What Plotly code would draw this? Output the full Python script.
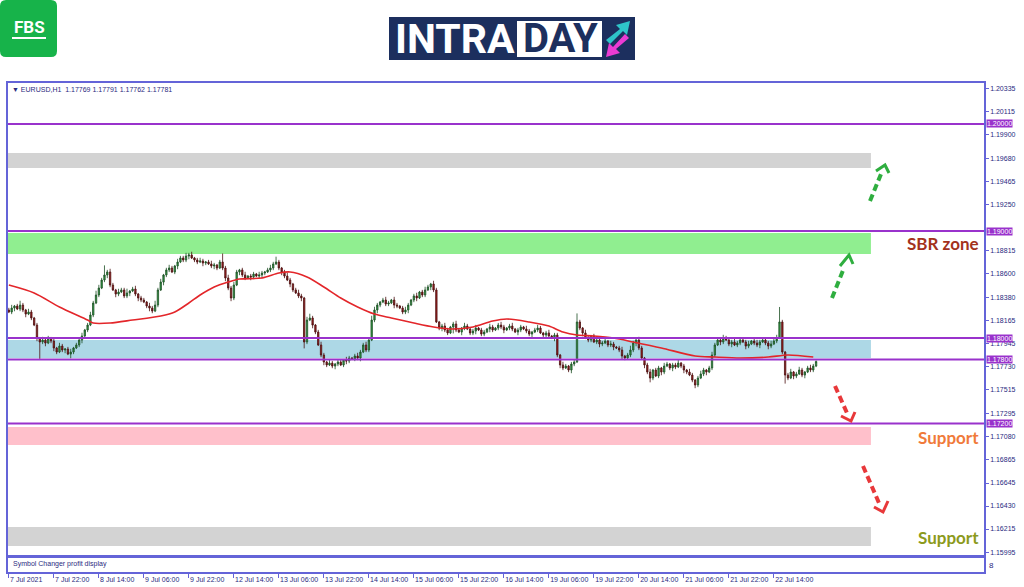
import plotly.graph_objects as go

W, H = 1024, 587

# ---------------- data (EURUSD H1) ----------------
first_open = 1.18262
closes = [
    1.18243, 1.18280, 1.18299, 1.18271, 1.18308, 1.18262, 1.18224, 1.18243,
    1.18187, 1.18121, 1.18000, 1.17963,
    1.17981, 1.17953, 1.18000, 1.17972, 1.17907, 1.17869, 1.17925, 1.17888, 1.17897, 1.17850, 1.17869,
    1.17907, 1.17935, 1.17981, 1.18019, 1.18075, 1.18121,
    1.18215, 1.18327, 1.18402, 1.18467, 1.18542, 1.18589, 1.18617,
    1.18495, 1.18449, 1.18411, 1.18430, 1.18449, 1.18393, 1.18421, 1.18439, 1.18458, 1.18411, 1.18374, 1.18355, 1.18336, 1.18299, 1.18280, 1.18252,
    1.18308, 1.18449, 1.18523, 1.18589, 1.18636, 1.18654, 1.18617, 1.18673, 1.18710, 1.18748, 1.18729, 1.18766, 1.18776,
    1.18748, 1.18729, 1.18710, 1.18720, 1.18701, 1.18710, 1.18692, 1.18673, 1.18682, 1.18654, 1.18710,
    1.18654, 1.18561, 1.18467, 1.18374, 1.18495,
    1.18617, 1.18636, 1.18589, 1.18561, 1.18579, 1.18570, 1.18598, 1.18579, 1.18589, 1.18607, 1.18617, 1.18636, 1.18654, 1.18692,
    1.18710,
    1.18654, 1.18617, 1.18579, 1.18542, 1.18505, 1.18449, 1.18421, 1.18393, 1.18374,
    1.17963,
    1.18168, 1.18187, 1.18121, 1.18056,
    1.17935, 1.17841, 1.17776, 1.17748, 1.17766, 1.17738, 1.17757, 1.17776, 1.17748,
    1.17794, 1.17785, 1.17813, 1.17804, 1.17832, 1.17813, 1.17869,
    1.17935, 1.17888, 1.17981, 1.18168,
    1.18262, 1.18308, 1.18336, 1.18355, 1.18318, 1.18327, 1.18355, 1.18308, 1.18299, 1.18280,
    1.18243, 1.18262, 1.18308, 1.18355, 1.18393, 1.18374, 1.18430,
    1.18402, 1.18449, 1.18477, 1.18505, 1.18449,
    1.18150,
    1.18093, 1.18112, 1.18075, 1.18047, 1.18103, 1.18131, 1.18075, 1.18056, 1.18093, 1.18112, 1.18084, 1.18047,
    1.18065, 1.18093, 1.18075, 1.18037, 1.18056, 1.18084, 1.18103, 1.18075, 1.18093, 1.18121, 1.18103,
    1.18075, 1.18093, 1.18112, 1.18084, 1.18056, 1.18075, 1.18103, 1.18084, 1.18065, 1.18037,
    1.18056, 1.18075, 1.18093, 1.18047, 1.18028, 1.18047, 1.18019, 1.18000, 1.18028,
    1.17841, 1.17748, 1.17720, 1.17738, 1.17701, 1.17757, 1.17776,
    1.18150,
    1.18093, 1.18047, 1.18000, 1.17981, 1.18019, 1.17963, 1.17981, 1.17944,
    1.17953, 1.17972, 1.17935, 1.17944, 1.17916, 1.17907, 1.17888, 1.17832, 1.17813, 1.17841,
    1.17888, 1.17953, 1.17981, 1.17907,
    1.17813, 1.17748, 1.17682, 1.17626, 1.17701, 1.17645, 1.17720, 1.17682,
    1.17738, 1.17757, 1.17720, 1.17748, 1.17729, 1.17766, 1.17738, 1.17701, 1.17682, 1.17654,
    1.17607, 1.17561, 1.17626, 1.17664, 1.17701, 1.17682, 1.17720,
    1.17841, 1.17935, 1.17981,
    1.17963, 1.18000, 1.17981, 1.17944, 1.17963, 1.17935, 1.17953, 1.17981, 1.17963, 1.17925, 1.17944,
    1.17972, 1.17953, 1.17935, 1.17963, 1.17981, 1.17953, 1.17925, 1.17944, 1.17972, 1.18000,
    1.18150,
    1.17869,
    1.17654,
    1.17626, 1.17682, 1.17645, 1.17664, 1.17701, 1.17654, 1.17682, 1.17720, 1.17701, 1.17738, 1.17781,
]

# wick lengths in pips above / below the candle body
wick_up = [
    2, 3, 1, 2, 4, 2, 1, 3, 2, 1, 2, 1, 3, 2, 2, 1,
    2, 1, 3, 2, 1, 2, 3, 1, 2, 2, 3, 1, 2, 3, 2, 4,
    3, 2, 9, 2, 3, 2, 1, 3, 2, 2, 4, 1, 2, 3, 1, 2,
    2, 1, 3, 2, 4, 2, 3, 1, 2, 3, 2, 1, 3, 2, 2, 3,
    2, 3, 1, 2, 3, 2, 1, 2, 3, 2, 1, 2, 8, 2, 3, 2,
    3, 2, 1, 2, 3, 1, 2, 2, 1, 3, 2, 1, 2, 3, 2, 5,
    2, 1, 2, 3, 2, 1, 2, 3, 2, 1, 3, 4, 2, 1, 2, 3,
    2, 1, 3, 2, 1, 2, 2, 1, 3, 2, 1, 2, 3, 2, 2, 3,
    2, 4, 3, 2, 1, 2, 3, 2, 1, 3, 2, 1, 2, 3, 2, 1,
    2, 3, 1, 2, 3, 2, 1, 3, 2, 1, 2, 3, 2, 1, 2, 3,
    2, 1, 3, 2, 1, 2, 3, 1, 2, 2, 1, 3, 2, 1, 2, 3,
    2, 1, 2, 3, 1, 2, 2, 1, 3, 2, 1, 2, 3, 2, 1, 2,
    3, 1, 2, 2, 1, 3, 2, 1, 2, 2, 8, 2, 1, 3, 2, 1,
    2, 3, 1, 2, 2, 1, 3, 2, 1, 2, 3, 1, 2, 4, 2, 1,
    3, 2, 1, 2, 3, 1, 2, 2, 1, 3, 2, 1, 2, 2, 3, 1,
    2, 1, 3, 2, 1, 2, 3, 2, 1, 2, 3, 2, 2, 1, 3, 2,
    1, 2, 3, 2, 1, 2, 2, 3, 1, 2, 3, 2, 1, 2, 2, 3,
    2, 3, 14, 2, 1, 2, 3, 1, 2, 3, 2, 1, 2, 3, 2, 1,
]
wick_dn = [
    1, 2, 3, 1, 2, 2, 3, 1, 2, 1, 3, 16, 2, 3, 1, 2,
    3, 2, 1, 2, 3, 1, 4, 2, 1, 2, 3, 1, 2, 1, 2, 1,
    2, 1, 2, 3, 2, 1, 3, 2, 1, 2, 2, 3, 1, 2, 3, 2,
    1, 2, 3, 2, 1, 2, 1, 3, 2, 2, 1, 2, 3, 1, 2, 2,
    3, 1, 2, 2, 1, 3, 2, 1, 2, 3, 2, 1, 2, 3, 2, 3,
    2, 1, 3, 2, 2, 1, 3, 2, 1, 2, 3, 2, 1, 2, 2, 1,
    2, 3, 2, 1, 3, 2, 1, 2, 3, 6, 2, 1, 3, 2, 1, 2,
    3, 2, 1, 2, 3, 2, 1, 2, 3, 2, 1, 2, 2, 3, 1, 2,
    2, 1, 2, 3, 2, 1, 2, 2, 1, 3, 2, 1, 2, 2, 3, 1,
    2, 3, 1, 2, 2, 1, 3, 2, 1, 2, 3, 2, 2, 1, 6, 2,
    1, 3, 2, 1, 2, 2, 3, 1, 2, 2, 1, 3, 2, 1, 2, 2,
    3, 1, 2, 2, 1, 3, 2, 1, 2, 2, 3, 1, 2, 1, 2, 3,
    2, 1, 3, 2, 3, 2, 1, 2, 3, 2, 1, 2, 3, 1, 2, 2,
    1, 2, 3, 2, 1, 2, 2, 3, 1, 2, 3, 2, 1, 2, 2, 3,
    2, 1, 3, 2, 4, 2, 1, 2, 3, 2, 1, 2, 3, 2, 1, 2,
    3, 2, 1, 2, 3, 2, 1, 2, 3, 1, 2, 2, 1, 3, 2, 1,
    2, 3, 1, 2, 2, 1, 3, 2, 1, 2, 2, 3, 1, 2, 3, 2,
    1, 2, 1, 2, 8, 2, 1, 3, 2, 1, 2, 3, 1, 2, 2, 1,
]

# moving average (bar index, price)
ma_bars = [0, 9, 18, 28, 30, 36, 44, 54, 59, 64, 68, 73, 78, 82, 90, 96, 100, 106, 112, 118,
           124, 130, 136, 144, 151, 158, 165, 172, 177, 185, 192, 197, 202, 208, 215, 222,
           232, 244, 251, 260, 270, 277, 286]
ma_vals = [1.18495, 1.18421, 1.18290, 1.18168, 1.18140, 1.18140, 1.18168, 1.18206, 1.18243,
           1.18327, 1.18402, 1.18477, 1.18523, 1.18551, 1.18561, 1.18607, 1.18617, 1.18570,
           1.18477, 1.18374, 1.18290, 1.18224, 1.18187, 1.18140, 1.18103, 1.18084, 1.18103,
           1.18159, 1.18178, 1.18150, 1.18112, 1.18056, 1.18028, 1.18019, 1.18000, 1.17963,
           1.17907, 1.17832, 1.17822, 1.17813, 1.17822, 1.17841, 1.17822]

# horizontal levels and zones
levels = [1.20000, 1.19000, 1.18000, 1.17800, 1.17200]
zone_tops = [1.19729, 1.18981, 1.17981, 1.17168, 1.16234]
zone_bottoms = [1.19589, 1.18785, 1.17813, 1.17000, 1.16056]
zone_colors = ["#d3d3d3", "#90ee90", "#add8e6", "#ffc0cb", "#d3d3d3"]

# axis ticks
price_ticks = [1.20335, 1.20115, 1.19900, 1.19680, 1.19465, 1.19250, 1.18815, 1.18600,
               1.18380, 1.18165, 1.17945, 1.17730, 1.17515, 1.17295, 1.17080, 1.16865,
               1.16645, 1.16430, 1.16215, 1.15995]
time_tick_bars = [0, 16, 32, 48, 64, 80, 96, 112, 128, 144, 160, 176, 192, 208, 224, 240, 256, 272]
time_tick_labels = ["7 Jul 2021", "7 Jul 22:00", "8 Jul 14:00", "9 Jul 06:00", "9 Jul 22:00",
                    "12 Jul 14:00", "13 Jul 06:00", "13 Jul 22:00", "14 Jul 14:00", "15 Jul 06:00",
                    "15 Jul 22:00", "16 Jul 14:00", "19 Jul 06:00", "19 Jul 22:00", "20 Jul 14:00",
                    "21 Jul 06:00", "21 Jul 22:00", "22 Jul 14:00"]

# ---------------- build ----------------
PIP = 0.0001
opens = [first_open] + closes[:-1]
highs = [max(o, c) + u * PIP for o, c, u in zip(opens, closes, wick_up)]
lows = [min(o, c) - d * PIP for o, c, d in zip(opens, closes, wick_dn)]
bars = list(range(len(closes)))

FRAME = "#6464d8"
NAVY = "#2a2a80"
LEVEL = "#9932cc"


def px(x):
    return x / W


def py(y):
    return 1 - y / H


fig = go.Figure()
fig.add_trace(go.Candlestick(
    x=bars, open=opens, high=highs, low=lows, close=closes,
    increasing=dict(fillcolor="#33a045", line=dict(color="#1d4f25", width=0.8)),
    decreasing=dict(fillcolor="#a11f1f", line=dict(color="#4a1010", width=0.8)),
    whiskerwidth=0, showlegend=False, hoverinfo="skip",
))
fig.add_trace(go.Scatter(
    x=ma_bars, y=ma_vals, mode="lines",
    line=dict(color="#e3262a", width=1.6, shape="spline", smoothing=0.8),
    showlegend=False, hoverinfo="skip",
))
# invisible trace for the lower (indicator) pane
fig.add_trace(go.Scatter(x=[0], y=[0], xaxis="x2", yaxis="y2", mode="markers",
                         marker=dict(opacity=0), showlegend=False, hoverinfo="skip"))

x_range = [-0.3, 346.7]
y_range = [1.15963, 1.20383]
zone_end = 306.5

shapes = []
for lo, hi, col in zip(zone_bottoms, zone_tops, zone_colors):
    shapes.append(dict(type="rect", xref="x", yref="y", x0=-5, x1=zone_end, y0=lo, y1=hi,
                       fillcolor=col, line=dict(width=0), layer="below"))
for lv in levels:
    shapes.append(dict(type="line", xref="x", yref="y", x0=-5, x1=400, y0=lv, y1=lv,
                       line=dict(color=LEVEL, width=2), layer="above"))


def dashed_arrow(p0, p1, tip, arm1, arm2, color):
    shapes.append(dict(type="line", xref="paper", yref="paper",
                       x0=px(p0[0]), y0=py(p0[1]), x1=px(p1[0]), y1=py(p1[1]),
                       line=dict(color=color, width=4, dash="7px,4px")))
    shapes.append(dict(type="path", xref="paper", yref="paper",
                       path=f"M{px(arm1[0])},{py(arm1[1])} L{px(tip[0])},{py(tip[1])} L{px(arm2[0])},{py(arm2[1])}",
                       line=dict(color=color, width=3)))


GREEN_A = "#2fae3f"
RED_A = "#e8383a"
dashed_arrow((870, 201), (881, 174), (885, 165), (876, 171), (889, 173), GREEN_A)
dashed_arrow((832, 298), (844, 268), (849, 255), (840, 266), (853, 264), GREEN_A)
dashed_arrow((835, 386), (847, 413), (851, 421), (841, 416), (855, 412), RED_A)
dashed_arrow((863, 466), (879, 503), (883, 512), (874, 507), (888, 501), RED_A)

# FBS logo
shapes.append(dict(type="path", xref="paper", yref="paper",
                   path=(f"M{px(6)},{py(0)} L{px(51)},{py(0)} Q{px(57)},{py(0)} {px(57)},{py(6)} "
                         f"L{px(57)},{py(51)} Q{px(57)},{py(57)} {px(51)},{py(57)} L{px(6)},{py(57)} "
                         f"Q{px(0)},{py(57)} {px(0)},{py(51)} L{px(0)},{py(6)} Q{px(0)},{py(0)} {px(6)},{py(0)} Z"),
                   fillcolor="#17b34a", line=dict(width=0)))
shapes.append(dict(type="line", xref="paper", yref="paper", x0=px(12), x1=px(46), y0=py(38), y1=py(38),
                   line=dict(color="white", width=2)))
# INTRADAY logo
shapes.append(dict(type="rect", xref="paper", yref="paper", x0=px(389), x1=px(635), y0=py(60), y1=py(17),
                   fillcolor="#1c2f5e", line=dict(width=0)))
shapes.append(dict(type="rect", xref="paper", yref="paper", x0=px(517), x1=px(602), y0=py(57), y1=py(21),
                   fillcolor="white", line=dict(width=0)))
# cyan arrow (up-right) and magenta arrow (down-left)
shapes.append(dict(type="path", xref="paper", yref="paper",
                   path=(f"M{px(606)},{py(40)} L{px(620)},{py(29)} L{px(616)},{py(25)} L{px(630)},{py(21)} "
                         f"L{px(627)},{py(35)} L{px(623)},{py(31)} L{px(610)},{py(44)} Z"),
                   fillcolor="#2ec5c9", line=dict(width=0)))
shapes.append(dict(type="path", xref="paper", yref="paper",
                   path=(f"M{px(629)},{py(38)} L{px(616)},{py(49)} L{px(620)},{py(53)} L{px(606)},{py(57)} "
                         f"L{px(609)},{py(43)} L{px(613)},{py(47)} L{px(625)},{py(34)} Z"),
                   fillcolor="#ea3bd3", line=dict(width=0)))

annotations = [
    dict(text="<b>FBS</b>", xref="paper", yref="paper", x=px(29), y=py(27), xanchor="center",
         yanchor="middle", showarrow=False, font=dict(family="Roboto", size=17, color="white")),
    dict(text="<b>INTRA</b>", xref="paper", yref="paper", x=px(517), y=py(39), xanchor="right",
         yanchor="middle", showarrow=False, font=dict(family="Roboto", size=41, color="white")),
    dict(text="<b>DAY</b>", xref="paper", yref="paper", x=px(560), y=py(39), xanchor="center",
         yanchor="middle", showarrow=False, font=dict(family="Roboto", size=40, color="#1c2f5e")),
    dict(text="\u25bc EURUSD,H1  1.17769 1.17791 1.17762 1.17781", xref="paper", yref="paper",
         x=px(10), y=py(89), xanchor="left", yanchor="middle", showarrow=False,
         font=dict(family="Liberation Sans", size=7, color=NAVY)),
    dict(text="Symbol Changer profit display", xref="paper", yref="paper",
         x=px(11), y=py(564), xanchor="left", yanchor="middle", showarrow=False,
         font=dict(family="Liberation Sans", size=7, color=NAVY)),
    dict(text="8", xref="paper", yref="paper", x=px(987), y=py(565), xanchor="left", yanchor="middle",
         showarrow=False, font=dict(family="Liberation Sans", size=8, color=NAVY)),
    dict(text="<b>SBR zone</b>", xref="paper", yref="y", x=px(981), y=1.18880, xanchor="right",
         yanchor="middle", showarrow=False, font=dict(family="Lato", size=17, color="#a3321c")),
    dict(text="<b>Support</b>", xref="paper", yref="y", x=px(981), y=1.17070, xanchor="right",
         yanchor="middle", showarrow=False, font=dict(family="Lato", size=17, color="#f07a3a")),
    dict(text="<b>Support</b>", xref="paper", yref="y", x=px(981), y=1.16140, xanchor="right",
         yanchor="middle", showarrow=False, font=dict(family="Lato", size=17, color="#8c9a1c")),
]
for lv in levels:
    annotations.append(dict(text=f"{lv:.5f}", xref="paper", yref="y", x=px(985.5), y=lv,
                            xanchor="left", yanchor="middle", showarrow=False, bgcolor=LEVEL,
                            borderpad=0, font=dict(family="Liberation Sans", size=7, color="white")))

fig.update_layout(
    width=W, height=H, margin=dict(l=0, r=0, t=0, b=0, autoexpand=False),
    paper_bgcolor="white", plot_bgcolor="white",
    shapes=shapes, annotations=annotations,
    xaxis=dict(domain=[px(8), px(984)], range=x_range, showgrid=False, zeroline=False,
               showticklabels=False, ticks="", showline=True, mirror=True, linecolor=FRAME, linewidth=1.5,
               rangeslider=dict(visible=False), anchor="y", fixedrange=True, automargin=False),
    yaxis=dict(domain=[py(556), py(83)], range=y_range, side="right", showgrid=False, zeroline=False,
               tickvals=price_ticks, ticktext=[f"{v:.5f}" for v in price_ticks],
               ticks="outside", ticklen=3, tickcolor=FRAME, automargin=False,
               tickfont=dict(family="Liberation Sans", size=7, color=NAVY),
               showline=True, mirror=True, linecolor=FRAME, linewidth=1.5, anchor="x"),
    xaxis2=dict(domain=[px(8), px(984)], range=x_range, matches="x", anchor="y2", showgrid=False,
                zeroline=False, tickvals=time_tick_bars, ticktext=time_tick_labels,
                ticks="outside", ticklen=4, tickcolor=FRAME, ticklabelposition="outside right",
                tickangle=0, automargin=False,
                tickfont=dict(family="Liberation Sans", size=7, color=NAVY),
                showline=True, mirror=True, linecolor=FRAME, linewidth=1.5),
    yaxis2=dict(domain=[py(572), py(557)], range=[-1, 1], showgrid=False, zeroline=False,
                showticklabels=False, ticks="", showline=True, mirror=True, linecolor=FRAME,
                linewidth=1.5, anchor="x2", side="right", automargin=False),
)

fig.write_html("out.html", config={"displayModeBar": False},
               post_script="document.body.style.margin='0';document.body.style.overflow='hidden';")
